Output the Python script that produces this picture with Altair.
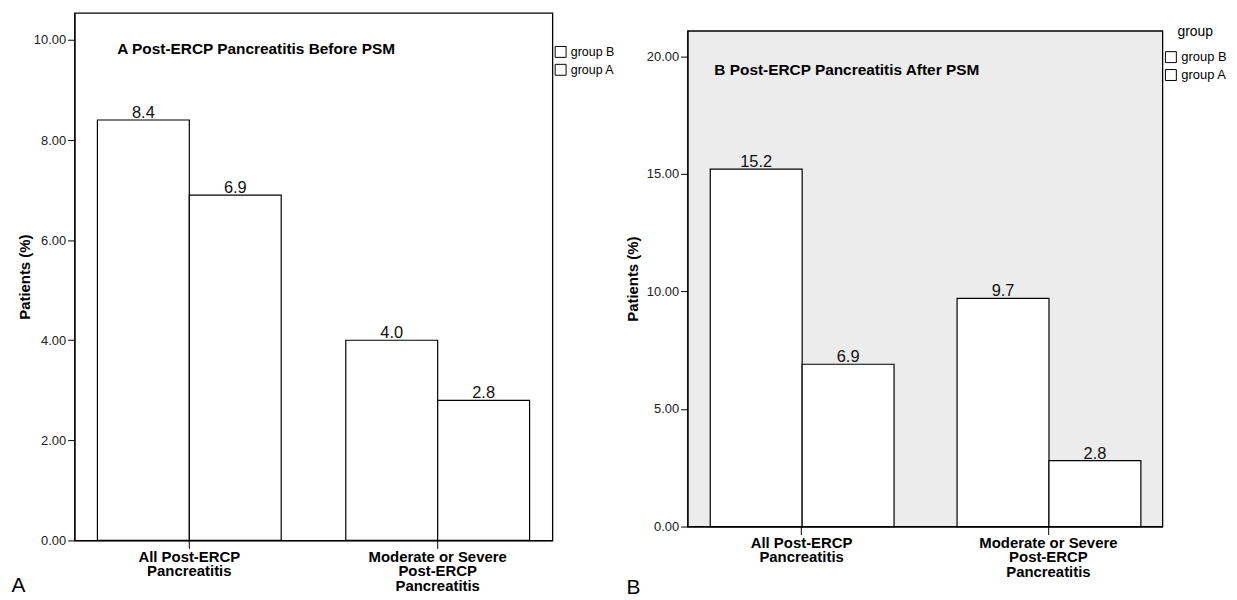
import altair as alt
import pandas as pd

categories = ["All Post-ERCP|Pancreatitis", "Moderate or Severe|Post-ERCP|Pancreatitis"]
groups = ["group B", "group A"]
before_groupB = [8.4, 4.0]
before_groupA = [6.9, 2.8]
after_groupB = [15.2, 9.7]
after_groupA = [6.9, 2.8]

FONT = "Liberation Sans, Arial"


def make_df(vb, va):
    rows = []
    for c, b, a in zip(categories, vb, va):
        rows.append({"category": c, "group": "group B", "value": b})
        rows.append({"category": c, "group": "group A", "value": a})
    return pd.DataFrame(rows)


def panel(df, ymax, yticks, width, height, headline, hx, hy, letter, lx, ly,
          ytitle_pad, legend_title, legx, legy, leg_font, leg_rowpad, fill):
    xenc = alt.X(
        "category:N", sort=categories,
        scale=alt.Scale(paddingInner=0.26, paddingOuter=0.092),
        axis=alt.Axis(
            title=letter, titleX=lx, titleY=ly, titleAlign="left",
            titleBaseline="alphabetic", titleFontWeight="normal",
            titleFontSize=21, titleFont=FONT, titleColor="black",
            labelAngle=0, labelExpr="split(datum.label, '|')",
            labelFontWeight="bold", labelFontSize=15, labelFont=FONT,
            labelLineHeight=14.5, labelPadding=1, labelBaseline="top",
            labelColor="black", tickSize=8, tickColor="black",
            domainColor="black",
        ),
    )
    yenc = alt.Y(
        "value:Q",
        scale=alt.Scale(domain=[0, ymax], nice=False),
        axis=alt.Axis(
            values=yticks, format=".2f", title="Patients (%)",
            titleFontWeight="bold", titleFontSize=15, titleFont=FONT,
            titleColor="black", titlePadding=ytitle_pad,
            labelFontSize=13, labelFont=FONT, labelColor="#222222",
            labelPadding=2, tickSize=7, tickColor="black",
            domainColor="black", grid=False,
        ),
    )
    legend_kwargs = dict(
        orient="none", legendX=legx, legendY=legy,
        symbolType="square", symbolSize=121, symbolStrokeColor="black",
        symbolStrokeWidth=1, labelFontSize=leg_font, labelFont=FONT,
        labelColor="black", rowPadding=leg_rowpad, labelOffset=4, padding=0,
    )
    if legend_title:
        legend_kwargs.update(title=legend_title, titleFontSize=14,
                             titleFont=FONT, titleFontWeight="normal",
                             titleColor="black", titlePadding=12,
                             titleAnchor="middle")
    else:
        legend_kwargs.update(title=None)
    bars = alt.Chart(df).mark_bar(stroke="black", strokeWidth=1.2).encode(
        x=xenc,
        xOffset=alt.XOffset("group:N", sort=groups),
        y=yenc,
        color=alt.Color("group:N", sort=groups,
                        scale=alt.Scale(domain=groups, range=["white", "white"]),
                        legend=alt.Legend(**legend_kwargs)),
    )
    labels = alt.Chart(df).mark_text(
        baseline="alphabetic", dy=-2, fontSize=16.5, font=FONT, color="#111111"
    ).encode(
        x=alt.X("category:N", sort=categories),
        xOffset=alt.XOffset("group:N", sort=groups),
        y="value:Q",
        text=alt.Text("value:Q", format=".1f"),
    )
    head = alt.Chart(pd.DataFrame({"t": [headline]})).mark_text(
        align="left", baseline="middle", fontSize=15.5, fontWeight="bold",
        font=FONT, color="black"
    ).encode(x=alt.value(hx), y=alt.value(hy), text="t:N")
    return alt.layer(bars, labels, head).properties(
        width=width, height=height,
        view=alt.ViewBackground(stroke="black", strokeWidth=1.3, fill=fill),
    )


dfA = make_df(before_groupB, before_groupA)
dfB = make_df(after_groupB, after_groupA)

pA = panel(dfA, 10.54, [0, 2, 4, 6, 8, 10], 481, 531,
           "A Post-ERCP Pancreatitis Before PSM", 43, 36,
           "A", -64, 51, 1, None, 483, 33, 12.5, 2, "white")
pB = panel(dfB, 21.08, [0, 5, 10, 15, 20], 478, 499,
           "B Post-ERCP Pancreatitis After PSM", 27, 39,
           "B", -62, 67, 6, "group", 480, 12, 13, 3, "#ececec")

# invisible 1px spacer that lowers panel B relative to panel A
spacer = alt.Chart(pd.DataFrame({"t": [0]})).mark_rule(
    strokeOpacity=0, strokeWidth=0.1
).encode(
    x=alt.value(0), x2=alt.value(1), y=alt.value(0)
).properties(width=1, height=1,
             view=alt.ViewBackground(stroke="transparent", fill="transparent"))

colB = alt.vconcat(spacer, pB, spacing=15)

chart = alt.hconcat(pA, colB, spacing=8).resolve_scale(
    color="independent", x="independent", y="independent"
).properties(
    padding={"left": 2, "top": 2, "right": 2, "bottom": 2},
    background="white",
)

chart.save("out.html", embed_options={"renderer": "svg", "actions": False})
